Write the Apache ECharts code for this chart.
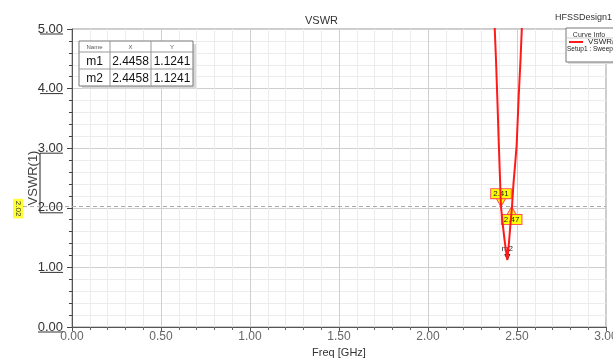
<!DOCTYPE html>
<html>
<head>
<meta charset="utf-8">
<script src="https://cdn.jsdelivr.net/npm/echarts@6/dist/echarts.min.js"></script>
<style>
  html, body { margin: 0; padding: 0; background: #fff; }
  #main { width: 613px; height: 359px; }
</style>
</head>
<body>
<div id="main"></div>
<script>
// sweep values (GHz, VSWR)
const freq = [2.368, 2.375, 2.383, 2.391, 2.398, 2.41, 2.42, 2.43, 2.44, 2.4458, 2.455, 2.463, 2.472, 2.48, 2.49, 2.498, 2.51, 2.52, 2.527, 2.534];
const vswr = [5.5, 5.0, 4.4, 3.7, 3.05, 2.02, 1.72, 1.46, 1.24, 1.124, 1.42, 1.72, 2.02, 2.4, 2.75, 3.05, 3.9, 4.5, 5.0, 5.45];

const refLevel = 2.02;
const crossFreqs = [2.41, 2.47];
const markerNames = ["m1", "m2"];
const markerX = ["2.4458", "2.4458"];
const markerY = ["1.1241", "1.1241"];
const yTicks = [0, 1, 2, 3, 4, 5];

const chart = echarts.init(document.getElementById("main"));

const lineData = freq.map((f, i) => [f, vswr[i]]);

const option = {
  animation: false,
  backgroundColor: "#fff",
  title: {
    text: "VSWR",
    left: 300,
    top: 10,
    textStyle: { fontSize: 11, fontWeight: "normal", color: "#333", fontFamily: "Liberation Sans" },
  },
  grid: {
    left: 72, right: 7, top: 29, bottom: 32,
    outerBoundsMode: "none",
    containLabel: false,
    show: true, borderColor: "#999", borderWidth: 1,
  },
  legend: {
    left: 569, top: 38,
    itemWidth: 14, itemHeight: 2, itemGap: 0, padding: 0,
    icon: "rect",
    textStyle: { fontSize: 8, color: "#222", fontFamily: "Liberation Sans" },
    data: ["VSWR(1)"],
    z: 25,
  },
  xAxis: {
    type: "value",
    min: 0, max: 3, interval: 0.5,
    name: "Freq [GHz]",
    nameLocation: "middle",
    nameGap: 20,
    nameMoveOverlap: false,
    nameTextStyle: { fontSize: 11, color: "#333", fontFamily: "Liberation Sans" },
    axisLine: { lineStyle: { color: "#555" } },
    axisTick: { show: true, length: 4, lineStyle: { color: "#555" } },
    minorTick: { show: true, splitNumber: 5, length: 3, lineStyle: { color: "#666" } },
    axisLabel: {
      formatter: (v) => v.toFixed(2),
      fontSize: 12, color: "#666", margin: 4, fontFamily: "Liberation Sans",
      showMaxLabel: true,
    },
    splitLine: { show: true, lineStyle: { color: "#cfcfcf" } },
    minorSplitLine: { show: true, lineStyle: { color: "#ececec" } },
  },
  yAxis: {
    type: "value",
    min: 0, max: 5, interval: 1,
    name: "VSWR(1)",
    nameLocation: "middle",
    nameGap: 32,
    nameMoveOverlap: false,
    nameTextStyle: { fontSize: 13, color: "#444", fontFamily: "Liberation Sans" },
    axisLine: { show: true, lineStyle: { color: "#555" } },
    axisTick: { show: true, length: 5, lineStyle: { color: "#444" } },
    minorTick: { show: true, splitNumber: 5, length: 3, lineStyle: { color: "#444" } },
    axisLabel: {
      formatter: (v) => v.toFixed(2),
      fontSize: 13, color: "#333", margin: 9, fontFamily: "Liberation Sans",
    },
    splitLine: { show: true, lineStyle: { color: "#cfcfcf" } },
    minorSplitLine: { show: true, lineStyle: { color: "#ececec" } },
  },
  series: [
    {
      name: "VSWR(1)",
      type: "line",
      data: lineData,
      showSymbol: false,
      clip: true,
      lineStyle: { color: "#ff1a1a", width: 2 },
      itemStyle: { color: "#ff1a1a" },
      z: 5,
      markLine: {
        silent: true,
        symbol: "none",
        label: { show: false },
        lineStyle: { color: "#aaa", type: [4, 3], width: 1 },
        data: [{ yAxis: refLevel }],
      },
      markPoint: {
        silent: true,
        data: [
          {
            coord: [crossFreqs[0], refLevel],
            symbol: "triangle", symbolRotate: 180, symbolSize: [9, 8], symbolOffset: [0, -4],
            itemStyle: { color: "#ffff00", borderColor: "#ff5050", borderWidth: 1 },
            label: {
              show: true, position: "top", distance: 0,
              formatter: crossFreqs[0].toFixed(2),
              fontSize: 8, color: "#222", backgroundColor: "#ffff00",
              borderColor: "#ff5050", borderWidth: 1, padding: [1, 2, 0, 2],
            },
          },
          {
            coord: [crossFreqs[1], refLevel],
            symbol: "triangle", symbolSize: [9, 8], symbolOffset: [0, 4],
            itemStyle: { color: "#ffff00", borderColor: "#ff5050", borderWidth: 1 },
            label: {
              show: true, position: "bottom", distance: 0,
              formatter: crossFreqs[1].toFixed(2),
              fontSize: 8, color: "#222", backgroundColor: "#ffff00",
              borderColor: "#ff5050", borderWidth: 1, padding: [1, 2, 0, 2],
            },
          },
          {
            coord: [parseFloat(markerX[1]), parseFloat(markerY[1])],
            symbol: "triangle", symbolRotate: 180, symbolSize: [5, 5], symbolOffset: [0, -3],
            itemStyle: { color: "#fff", borderColor: "#222", borderWidth: 1 },
            label: { show: true, position: "top", distance: 1, formatter: markerNames[1], fontSize: 8, color: "#111" },
          },
        ],
      },
    },
  ],
};

chart.setOption(option);

// extra annotation pieces placed from the axis scale
const g = [];
yTicks.forEach((v) => {
  const p = chart.convertToPixel({ gridIndex: 0 }, [0, v]);
  const x0 = v === 0 ? p[0] - 34 : p[0] - 32;
  g.push({ type: "line", shape: { x1: x0, y1: p[1] + 5, x2: p[0] - 9, y2: p[1] + 5 }, style: { stroke: "#333", lineWidth: 1 } });
});
const p3 = chart.convertToPixel({ gridIndex: 0 }, [0, 3]);
const p2 = chart.convertToPixel({ gridIndex: 0 }, [0, 2]);
g.push({ type: "line", shape: { x1: p3[0] - 32, y1: p3[1] + 5, x2: p2[0] - 32, y2: p2[1] + 5 }, style: { stroke: "#222", lineWidth: 1 } });
const pr = chart.convertToPixel({ gridIndex: 0 }, [0, refLevel]);
g.push({ type: "line", shape: { x1: 23, y1: pr[1], x2: pr[0], y2: pr[1] }, style: { stroke: "#aaa", lineWidth: 1, lineDash: [4, 3] } });
g.push({
  type: "text", x: 18, y: pr[1] + 2, rotation: -Math.PI / 2,
  style: { text: refLevel.toFixed(2), fontSize: 8, fill: "#333", backgroundColor: "#ffff33", padding: [1, 2], align: "center", verticalAlign: "middle" },
});

// marker table
const tx = 79, ty = 41, colW = [31, 41, 42], hh = 11, rh = 17;
const tbl = [];
tbl.push({ type: "rect", shape: { x: 3, y: 3, width: colW[0] + colW[1] + colW[2], height: hh + rh * 2 }, style: { fill: "#d8d8d8" } });
tbl.push({ type: "rect", shape: { x: 0, y: 0, width: colW[0] + colW[1] + colW[2], height: hh + rh * 2 }, style: { fill: "#fff", stroke: "#777", lineWidth: 1 } });
const headers = ["Name", "X", "Y"];
let cx = 0;
headers.forEach((h, c) => {
  tbl.push({ type: "text", x: cx + colW[c] / 2, y: hh / 2 + 0.5, style: { text: h, fontSize: 6, fill: "#555", align: "center", verticalAlign: "middle" } });
  if (c > 0) tbl.push({ type: "line", shape: { x1: cx, y1: 0, x2: cx, y2: hh + rh * 2 }, style: { stroke: "#999" } });
  cx += colW[c];
});
markerNames.forEach((n, r) => {
  const yy = hh + rh * r;
  tbl.push({ type: "line", shape: { x1: 0, y1: yy, x2: colW[0] + colW[1] + colW[2], y2: yy }, style: { stroke: "#999" } });
  const vals = [n, markerX[r], markerY[r]];
  let xx = 0;
  vals.forEach((t, c) => {
    tbl.push({ type: "text", x: xx + colW[c] / 2, y: yy + rh / 2 + 1, style: { text: t, fontSize: 12, fill: "#111", align: "center", verticalAlign: "middle", fontFamily: "Liberation Sans" } });
    xx += colW[c];
  });
});
g.push({ type: "group", x: tx, y: ty, children: tbl, z: 20 });

// curve info box
g.push({ type: "text", x: 555, y: 13, style: { text: "HFSSDesign1", fontSize: 9, fill: "#333", fontFamily: "Liberation Sans" } });
g.push({
  type: "group", x: 566, y: 28, z: 19,
  children: [
    { type: "rect", shape: { x: 2, y: 2, width: 60, height: 34 }, style: { fill: "#ddd" } },
    { type: "rect", shape: { x: 0, y: 0, width: 60, height: 34 }, style: { fill: "#fff", stroke: "#777" } },
    { type: "text", x: 23, y: 4, style: { text: "Curve Info", fontSize: 7, fill: "#333", align: "center" } },
    { type: "line", shape: { x1: 0, y1: 10, x2: 60, y2: 10 }, style: { stroke: "#ccc" } },
    { type: "text", x: 1, y: 18, style: { text: "Setup1 : Sweep", fontSize: 6.5, fill: "#222" } },
  ],
});
chart.setOption({ graphic: g });
</script>
</body>
</html>
